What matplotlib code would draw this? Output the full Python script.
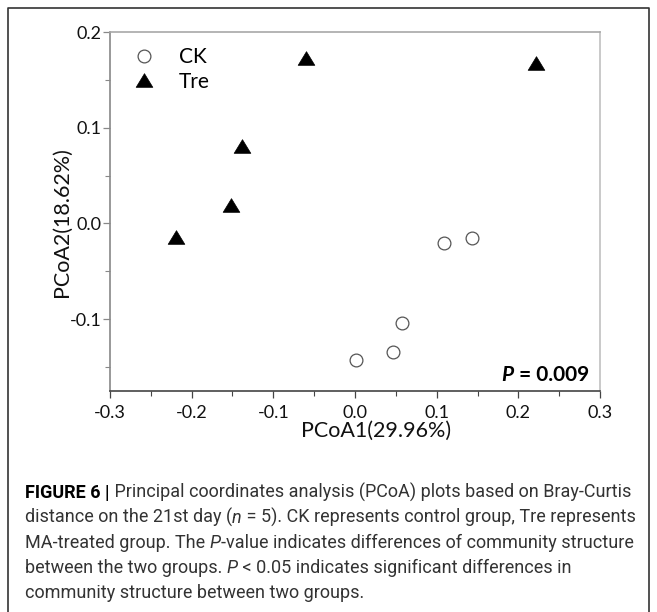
import matplotlib
matplotlib.use("Agg")
import matplotlib.pyplot as plt
from matplotlib import font_manager
from matplotlib.path import Path
from matplotlib.lines import Line2D
from matplotlib.ticker import MultipleLocator, FixedLocator

# ---------------- data ----------------
ck_x = [0.109, 0.143, 0.058, 0.046, 0.001]
ck_y = [-0.020, -0.015, -0.104, -0.135, -0.143]
tre_x = [-0.219, -0.152, -0.138, -0.060, 0.222]
tre_y = [-0.014, 0.019, 0.081, 0.173, 0.168]
series_labels = ["CK", "Tre"]
x_ticks = [-0.3, -0.2, -0.1, 0.0, 0.1, 0.2, 0.3]
y_ticks = [-0.1, 0.0, 0.1, 0.2]
x_label = "PCoA1(29.96%)"
y_label = "PCoA2(18.62%)"
p_text = ("P", " = 0.009")

caption_lines = [
    [("FIGURE 6 |", "bold", "normal"), (" Principal coordinates analysis (PCoA) plots based on Bray-Curtis", "normal", "normal")],
    [("distance on the 21st day (", "normal", "normal"), ("n", "normal", "italic"), (" = 5). CK represents control group, Tre represents", "normal", "normal")],
    [("MA-treated group. The ", "normal", "normal"), ("P", "normal", "italic"), ("-value indicates differences of community structure", "normal", "normal")],
    [("between the two groups. ", "normal", "normal"), ("P", "normal", "italic"), (" < 0.05 indicates significant differences in", "normal", "normal")],
    [("community structure between two groups.", "normal", "normal")],
]

available = {f.name for f in font_manager.fontManager.ttflist}
def pick(*names):
    for n in names:
        if n in available:
            return n
    return "DejaVu Sans"

chart_font = pick("Lato", "Open Sans", "DejaVu Sans")
cap_font = pick("Liberation Sans Narrow", "Roboto", "Liberation Sans")

W, H = 657, 612
fig = plt.figure(figsize=(W / 100, H / 100), dpi=100)

# axes placement (pixels)
ax_l, ax_r, ax_t, ax_b = 110, 600, 32.3, 391
ax = fig.add_axes([ax_l / W, 1 - ax_b / H, (ax_r - ax_l) / W, (ax_b - ax_t) / H])

tri = Path([(-1, -0.82), (1, -0.82), (0, 0.82), (-1, -0.82)],
           [Path.MOVETO, Path.LINETO, Path.LINETO, Path.CLOSEPOLY])

ax.plot(ck_x, ck_y, linestyle="none", marker="o", ms=9.2, mfc="white",
        mec="#555555", mew=0.9, label=series_labels[0])
ax.plot(tre_x, tre_y, linestyle="none", marker=tri, ms=12, mfc="black",
        mec="black", mew=0.5, label=series_labels[1])

ax.set_xlim(-0.3, 0.3)
ax.set_ylim(-0.1753, 0.2)
ax.xaxis.set_major_locator(FixedLocator(x_ticks))
ax.yaxis.set_major_locator(FixedLocator(y_ticks))
ax.xaxis.set_minor_locator(MultipleLocator(0.05))
ax.yaxis.set_minor_locator(MultipleLocator(0.05))
ax.set_xticklabels([f"{v:.1f}" for v in x_ticks])
ax.set_yticklabels([f"{v:.1f}" for v in y_ticks])

for lab in ax.get_xticklabels() + ax.get_yticklabels():
    lab.set_fontfamily(chart_font)
    lab.set_fontsize(13)
    lab.set_color("#111111")

ax.tick_params(axis="x", which="major", direction="out", length=5, width=0.9, color="#444444", pad=5)
ax.tick_params(axis="x", which="minor", direction="out", length=3.5, width=0.8, color="#444444")
ax.tick_params(axis="y", which="major", direction="out", length=5, width=0.9, color="#888888", pad=1)
ax.tick_params(axis="y", which="minor", direction="out", length=3.5, width=0.8, color="#888888")

ax.spines["left"].set_color("#888888")
ax.spines["bottom"].set_color("#444444")
ax.spines["top"].set_color("#a8a8a8")
ax.spines["right"].set_color("#c0c0c0")
for s in ax.spines.values():
    s.set_linewidth(1.2)

ax.set_xlabel(x_label, fontfamily=chart_font, fontsize=15.5, color="#111111")
ax.set_ylabel(y_label, fontfamily=chart_font, fontsize=15.5, color="#111111")
ax.xaxis.set_label_coords(0.543, -0.082)
ax.yaxis.set_label_coords(-0.077, 0.47)

leg = ax.legend(loc="upper left", frameon=False, prop={"family": chart_font, "size": 15},
                handlelength=1.1, handletextpad=1.1, labelspacing=0.22,
                bbox_to_anchor=(0.03, 0.982), borderaxespad=0)

fig.canvas.draw()
renderer = fig.canvas.get_renderer()

def draw_segments(x0, y0, segs, family, size, color, align="left"):
    # x0,y0 in figure pixel coords (from top-left); baseline placement
    items = []
    total = 0
    for txt, weight, style in segs:
        t = fig.text(0, 0, txt, fontfamily=family, fontsize=size, fontweight=weight,
                     fontstyle=style, color=color if weight != "bold" else "#000000",
                     va="baseline", ha="left")
        bb = t.get_window_extent(renderer)
        items.append((t, bb.width))
        total += bb.width
    x = x0 - total if align == "right" else x0
    for t, w in items:
        t.set_position((x / W, 1 - y0 / H))
        x += w
    return total

# P value inside axes
draw_segments(589, 381, [(p_text[0], "bold", "italic"), (p_text[1], "bold", "normal")],
              chart_font, 15, "#000000", align="right")

# caption
y = 498
for line in caption_lines:
    draw_segments(25, y, line, cap_font, 13.0, "#333333")
    y += 25.1

# outer frame (top, left, right edges; bottom is cut off)
fig.add_artist(Line2D([8 / W, 8 / W, 649 / W, 649 / W], [0, 1 - 8 / H, 1 - 8 / H, 0],
                      transform=fig.transFigure, color="#333333", lw=1.2))

fig.savefig("out.png", dpi=100)
